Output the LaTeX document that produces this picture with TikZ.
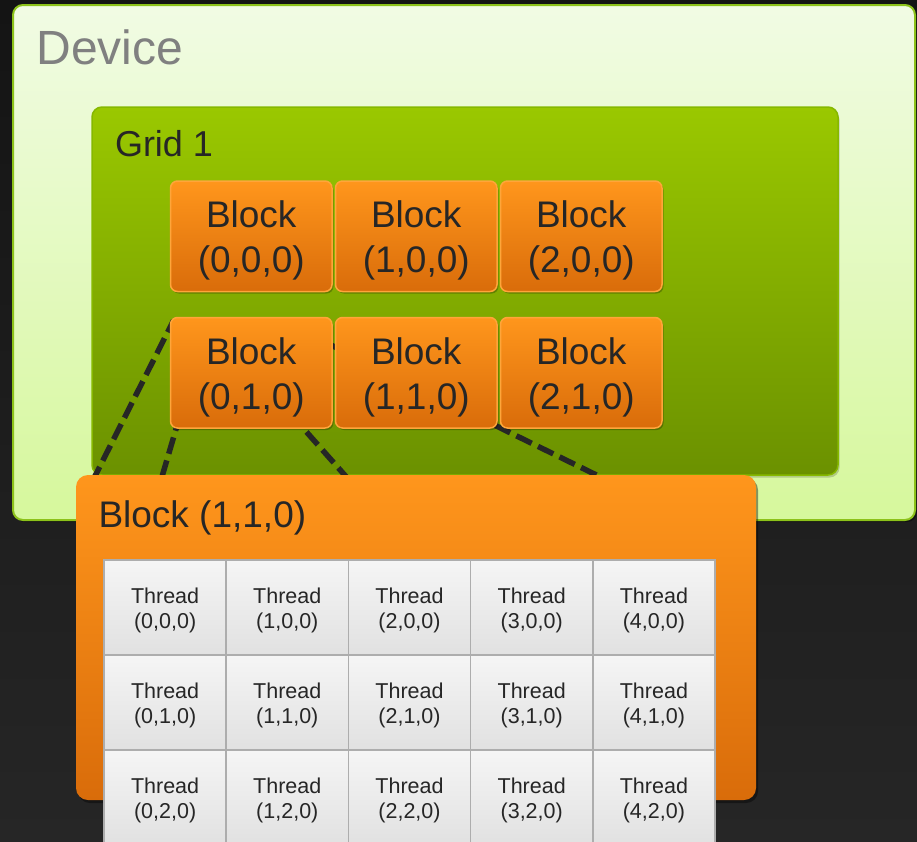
\documentclass[tikz,border=0pt]{standalone}
\usepackage{fontspec}
\setmainfont{Liberation Sans}
\usetikzlibrary{shadows}

\definecolor{bgTop}{HTML}{141414}
\definecolor{bgBot}{HTML}{262626}
\definecolor{devTop}{HTML}{F1FBE4}
\definecolor{devBot}{HTML}{D6F89C}
\definecolor{devEdge}{HTML}{8CC21A}
\definecolor{gridTop}{HTML}{9AC800}
\definecolor{gridBot}{HTML}{6B9100}
\definecolor{gridEdge}{HTML}{86B800}
\definecolor{blkTop}{HTML}{FF961C}
\definecolor{blkBot}{HTML}{D96C0A}
\definecolor{blkEdge}{HTML}{FFA53A}
\definecolor{cellTop}{HTML}{F5F5F5}
\definecolor{cellBot}{HTML}{E1E1E1}
\definecolor{cellEdge}{HTML}{ADADAD}
\definecolor{ink}{HTML}{262626}
\definecolor{devInk}{HTML}{808080}
\definecolor{linkc}{HTML}{262626}

\begin{document}
\begin{tikzpicture}[x=1bp,y=-1bp,
  box/.style={rectangle, inner sep=0pt, outer sep=0pt, anchor=north west},
  devicebox/.style={box, rounded corners=10bp, draw=devEdge, line width=2bp,
    top color=devTop, bottom color=devBot,
    minimum width=902bp, minimum height=515bp,
    drop shadow={shadow xshift=2bp, shadow yshift=-2bp, opacity=0.4, fill=black}},
  gridbox/.style={box, rounded corners=10bp, draw=gridEdge, line width=1.5bp,
    top color=gridTop, bottom color=gridBot,
    minimum width=746bp, minimum height=368bp,
    drop shadow={shadow xshift=1.5bp, shadow yshift=-2.5bp, opacity=0.18, fill=black}},
  blockbox/.style={box, rounded corners=7bp, draw=blkEdge, line width=1.5bp,
    top color=blkTop, bottom color=blkBot,
    minimum width=161.5bp, minimum height=110.5bp,
    drop shadow={shadow xshift=1.5bp, shadow yshift=-2bp, opacity=0.25, fill=black}},
  blocktext/.style={align=center, text=ink, inner sep=0pt,
    font=\fontsize{37bp}{45bp}\selectfont},
  bigbox/.style={box, rounded corners=12bp,
    top color=blkTop, bottom color=blkBot,
    minimum width=680bp, minimum height=325bp,
    drop shadow={shadow xshift=2bp, shadow yshift=-3bp, opacity=0.4, fill=black}},
  threadcell/.style={box, draw=cellEdge, line width=1.5bp,
    top color=cellTop, bottom color=cellBot,
    minimum width=122.2bp, minimum height=95bp},
  threadtext/.style={align=center, text=ink, inner sep=0pt,
    font=\fontsize{21.5bp}{25bp}\selectfont},
  titletext/.style={anchor=base west, inner sep=0pt, outer sep=0pt},
  link/.style={draw=linkc, line width=5.5bp, dash pattern=on 17bp off 7bp}
]
\useasboundingbox (0,0) rectangle (917,842);
\shade[top color=bgTop, bottom color=bgBot] (0,0) rectangle (917,842);

% device frame
\node[devicebox] (device) at (13,5) {};
\node[titletext, text=devInk, font=\fontsize{48bp}{56bp}\selectfont] (devlabel) at (36.5,64) {Device};

% grid frame
\node[gridbox] (grid) at (92,107) {};
\node[titletext, text=ink, font=\fontsize{36bp}{42bp}\selectfont] (gridlabel) at (115,156) {Grid 1};

% end points of the dashed expansion lines (hidden ends sit under the blocks)
\coordinate (l1a) at (173.5,320.5);
\coordinate (l1b) at (88,490);
\coordinate (l2a) at (177.5,424);
\coordinate (l2b) at (156.6,495);
\coordinate (l3a) at (295.9,420);
\coordinate (l3b) at (357.9,490);
\coordinate (l4a) at (320,339.6);
\coordinate (l4b) at (625,489);
\draw[link, dash phase=4bp] (l1a) -- (l1b);
\draw[link, dash phase=10bp] (l2a) -- (l2b);
\draw[link, dash phase=8bp] (l3a) -- (l3b);
\draw[link, dash phase=21.3bp] (l4a) -- (l4b);

% blocks of the grid
\foreach \i/\x in {0/170.5,1/335.5,2/500.5}
  \foreach \j/\y in {0/181,1/317.5}{
    \node[blockbox] (b\i\j) at (\x,\y) {};
    \node[blocktext] (bt\i\j) at ([yshift=-4.5bp]b\i\j.center) {Block\\(\i,\j,0)};
  }

% expanded block
\node[bigbox] (big) at (76,475) {};
\node[titletext, text=ink, font=\fontsize{37bp}{44bp}\selectfont] (biglabel) at (98.5,527) {Block (1,1,0)};

% threads of the expanded block
\foreach \i in {0,...,4}
  \foreach \j in {0,1,2}{
    \node[threadcell] (t\i\j) at ({104+122.2*\i},{560+95*\j}) {};
    \node[threadtext] (tt\i\j) at ([yshift=-2.7bp]t\i\j.center) {Thread\\(\i,\j,0)};
  }
\end{tikzpicture}
\end{document}
